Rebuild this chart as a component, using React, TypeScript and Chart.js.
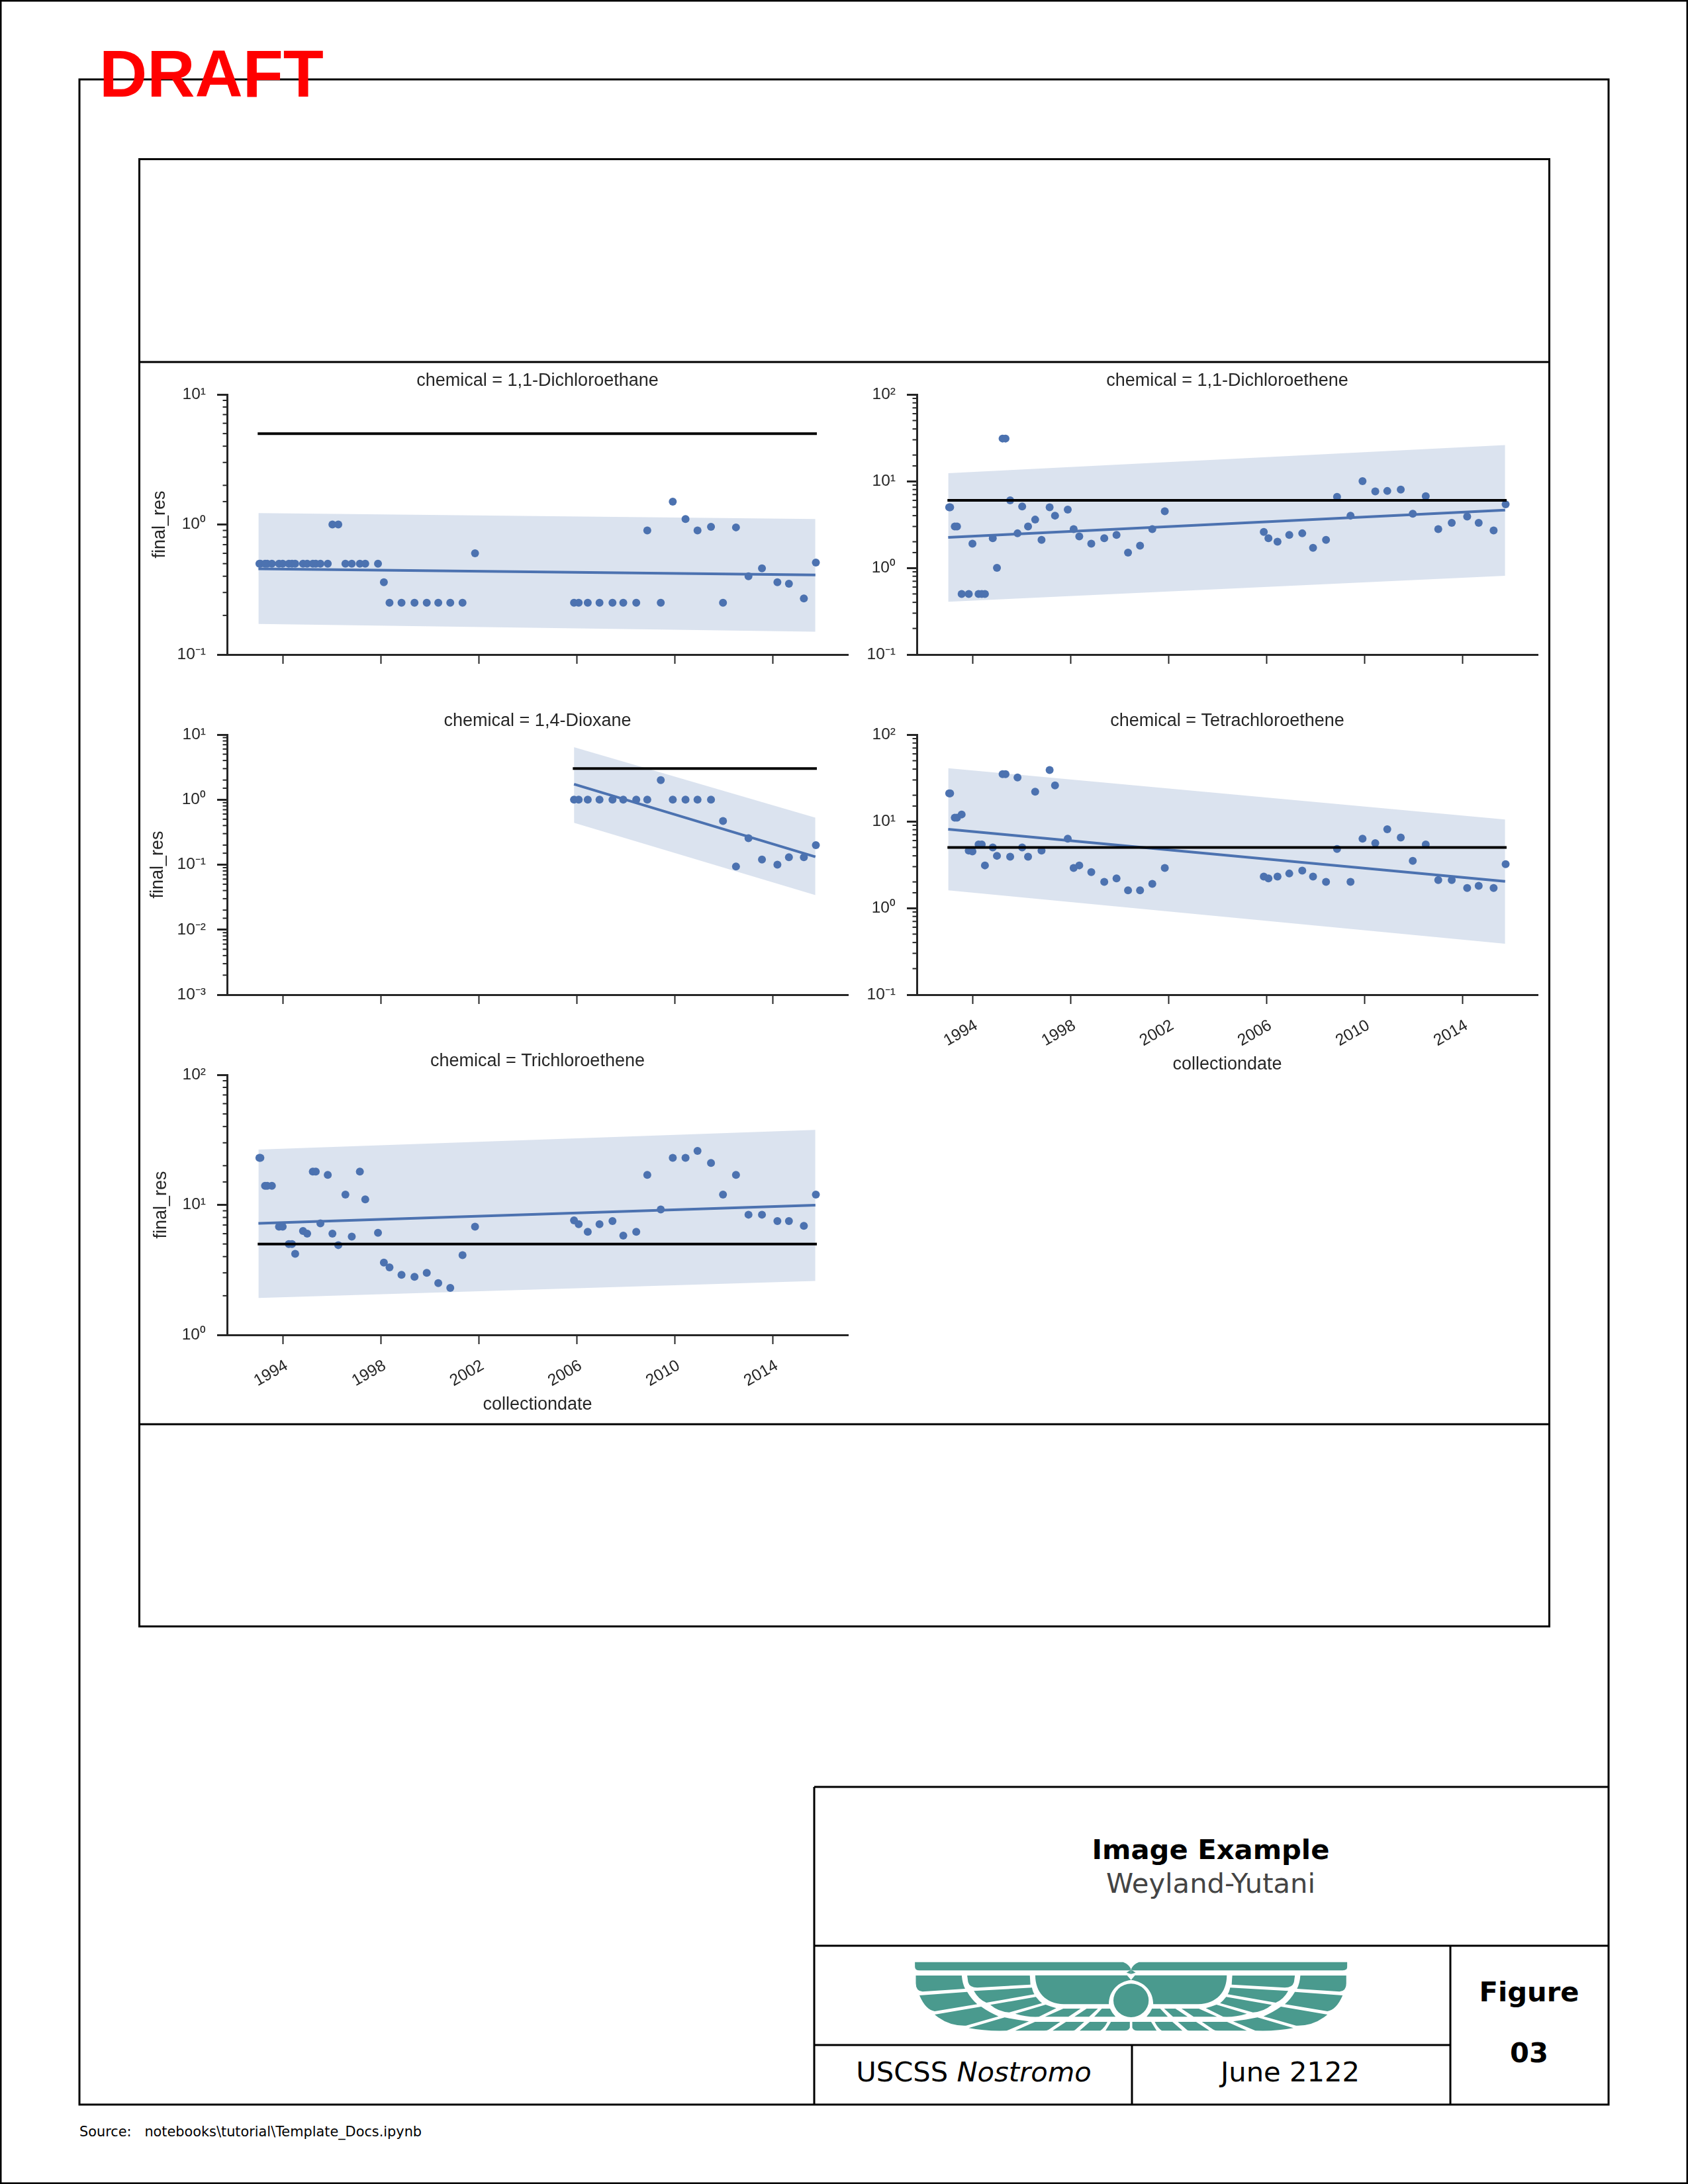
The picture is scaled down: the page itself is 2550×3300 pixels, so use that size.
import React, { useEffect, useRef } from "react";
import { Chart, registerables } from "chart.js";

Chart.register(...registerables);

// ---- data ----
const sampleDates = [
  1993.05, 1993.09, 1993.28, 1993.37, 1993.56, 1993.85, 1994.0, 1994.25, 1994.38, 1994.51, 1994.83,
  1995.0, 1995.23, 1995.35, 1995.54, 1995.84, 1996.03, 1996.27, 1996.56, 1996.82, 1997.15, 1997.37,
  1997.89, 1998.13, 1998.36, 1998.85, 1999.38, 1999.88, 2000.35, 2000.84, 2001.34, 2001.85, 2005.89,
  2006.08, 2006.45, 2006.93, 2007.46, 2007.9, 2008.43, 2008.88, 2009.43, 2009.92, 2010.44, 2010.93,
  2011.48, 2011.97, 2012.5, 2013.01, 2013.56, 2014.19, 2014.66, 2015.27, 2015.76,
];
const dioxaneDates = sampleDates.slice(32);

const dichloroethane = [
  0.5, 0.5, 0.5, 0.5, 0.5, 0.5, 0.5, 0.5, 0.5, 0.5, 0.5, 0.5, 0.5, 0.5, 0.5, 0.5, 1.0, 1.0, 0.5, 0.5,
  0.5, 0.5, 0.5, 0.36, 0.25, 0.25, 0.25, 0.25, 0.25, 0.25, 0.25, 0.6, 0.25, 0.25, 0.25, 0.25, 0.25,
  0.25, 0.25, 0.9, 0.25, 1.5, 1.1, 0.9, 0.96, 0.25, 0.95, 0.4, 0.46, 0.36, 0.35, 0.27, 0.51,
];
const dichloroethene = [
  5, 5, 3, 3, 0.5, 0.5, 1.9, 0.5, 0.5, 0.5, 2.2, 1.0, 31, 31, 6, 2.5, 5.1, 3, 3.6, 2.1, 5, 4, 4.7, 2.8,
  2.3, 1.9, 2.2, 2.4, 1.5, 1.8, 2.8, 4.5, 2.6, 2.2, 2.0, 2.4, 2.5, 1.7, 2.1, 6.6, 4, 10, 7.6, 7.7, 8,
  4.2, 6.7, 2.8, 3.3, 3.9, 3.3, 2.7, 5.4,
];
const dioxane = [
  1, 1, 1, 1, 1, 1, 1, 1, 2, 1, 1, 1, 1, 0.47, 0.094, 0.255, 0.12, 0.1, 0.13, 0.13, 0.2,
];
const tetrachloroethene = [
  21, 21, 11, 11, 12, 4.6, 4.5, 5.4, 5.4, 3.1, 5, 4, 35, 35, 3.9, 32, 5, 3.9, 22, 4.6, 39, 26, 6.3, 2.9,
  3.1, 2.6, 2, 2.2, 1.6, 1.6, 1.9, 2.9, 2.3, 2.2, 2.3, 2.5, 2.7, 2.3, 2, 4.8, 2, 6.3, 5.6, 8.1, 6.5,
  3.5, 5.4, 2.1, 2.1, 1.7, 1.8, 1.7, 3.2,
];
const trichloroethene = [
  23, 23, 14, 14, 14, 6.8, 6.8, 5, 5, 4.2, 6.3, 6, 18, 18, 7.2, 17, 6, 4.9, 12, 5.7, 18, 11, 6.1, 3.6,
  3.3, 2.9, 2.8, 3, 2.5, 2.3, 4.1, 6.8, 7.6, 7.1, 6.2, 7.1, 7.5, 5.8, 6.2, 17, 9.2, 23, 23, 26, 21, 12,
  17, 8.4, 8.4, 7.5, 7.5, 6.9, 12,
];

const fitDates = [1993.01, 2015.74];
const dioxaneFitDates = [2005.89, 2015.74];
const limitDates = [1992.98, 2015.8];
const dioxaneLimitDates = [2005.84, 2015.8];

const fit1 = [0.456, 0.409];
const upper1 = [1.225, 1.1];
const lower1 = [0.172, 0.15];
const fit2 = [2.24, 4.64];
const upper2 = [12.35, 26.1];
const lower2 = [0.406, 0.81];
const fit3 = [1.73, 0.132];
const upper3 = [6.4, 0.527];
const lower3 = [0.44, 0.034];
const fit4 = [8.1, 2.03];
const upper4 = [41, 10.5];
const lower4 = [1.6, 0.387];
const fit5 = [7.2, 9.95];
const upper5 = [26.6, 37.7];
const lower5 = [1.92, 2.6];

const tickYears = [1994, 1998, 2002, 2006, 2010, 2014];
const SUP: Record<string, string> = { "-": "\u207B", "0": "\u2070", "1": "\u00B9", "2": "\u00B2", "3": "\u00B3" };

// ---- styling ----
const INK = "#262626";
const BLUE = "#4C72B0";
const BAND = "rgba(76,114,176,0.2)";
const CHART_FONT = "'Liberation Sans', Arial, sans-serif";
const FRAME_FONT = "'DejaVu Sans', sans-serif";

const isDecade = (v: number) => Math.abs(Math.log10(v) - Math.round(Math.log10(v))) < 1e-6;

const minorTicks = {
  id: "minorTicks",
  afterDraw(chart: any) {
    const s = chart.scales.y;
    const c = chart.ctx;
    c.save();
    c.strokeStyle = INK;
    c.lineWidth = 2;
    for (const t of s.ticks) {
      if (isDecade(t.value)) continue;
      const p = s.getPixelForValue(t.value);
      c.beginPath();
      c.moveTo(s.right - 6.5, p);
      c.lineTo(s.right, p);
      c.stroke();
    }
    c.restore();
  },
};

type PanelProps = {
  title: string;
  left: number;
  top: number;
  dates: number[];
  values: number[];
  fitX: number[];
  fit: number[];
  upper: number[];
  lower: number[];
  limitX: number[];
  limit: number;
  yMin: number;
  yMax: number;
  yLabel?: string;
  yLabelPad?: number;
  xLabels?: boolean;
};

const AXIS_W = 938;
const AXIS_H = 393;
const PAD_LEFT = 128;
const PAD_TOP = 46;
const PAD_RIGHT = 15;

function Panel(p: PanelProps) {
  const ref = useRef<HTMLCanvasElement | null>(null);
  const padBottom = p.xLabels ? 125 : 40;
  const width = PAD_LEFT + AXIS_W + PAD_RIGHT;
  const height = PAD_TOP + AXIS_H + padBottom;
  useEffect(() => {
    const pair = (xs: number[], ys: number[]) => xs.map((x, i) => ({ x, y: ys[i] }));
    const chart = new Chart(ref.current as HTMLCanvasElement, {
      type: "line",
      data: {
        datasets: [
          { label: "limit", data: pair(p.limitX, [p.limit, p.limit]), borderColor: "#000", borderWidth: 4, pointRadius: 0, order: 0 },
          { label: "samples", data: pair(p.dates, p.values), showLine: false, pointRadius: 6, pointBorderWidth: 0, pointBackgroundColor: BLUE, borderColor: BLUE, order: 1 },
          { label: "fit", data: pair(p.fitX, p.fit), borderColor: BLUE, borderWidth: 4, pointRadius: 0, order: 2 },
          { label: "upper", data: pair(p.fitX, p.upper), borderWidth: 0, pointRadius: 0, fill: "+1", backgroundColor: BAND, order: 3 },
          { label: "lower", data: pair(p.fitX, p.lower), borderWidth: 0, pointRadius: 0, order: 4 },
        ] as any,
      },
      options: {
        animation: false,
        responsive: false,
        devicePixelRatio: 1,
        layout: { padding: { left: 0, right: PAD_RIGHT, top: 0, bottom: 0 } },
        plugins: {
          legend: { display: false },
          tooltip: { enabled: false },
          title: {
            display: true,
            text: p.title,
            fullSize: false,
            color: INK,
            font: { family: CHART_FONT, size: 27, weight: "normal" },
            padding: { top: 9, bottom: PAD_TOP - 9 - 32.4 },
          },
        },
        scales: {
          x: {
            type: "linear",
            min: 1991.73,
            max: 2017.07,
            afterBuildTicks(s: any) {
              s.ticks = tickYears.map((value) => ({ value }));
            },
            afterFit(s: any) {
              s.height = padBottom;
            },
            border: { color: INK, width: 3 },
            grid: { drawOnChartArea: false, tickLength: 14, tickWidth: 2, tickColor: INK },
            ticks: {
              autoSkip: false,
              minRotation: 30,
              maxRotation: 30,
              padding: 18,
              labelOffset: 6,
              color: INK,
              font: { family: CHART_FONT, size: 24.5 },
              callback: (v: any) => (p.xLabels ? String(v) : ""),
            },
            title: {
              display: !!p.xLabels,
              text: "collectiondate",
              color: INK,
              font: { family: CHART_FONT, size: 27 },
              padding: { top: 0, bottom: 3 },
            },
          },
          y: {
            type: "logarithmic",
            min: p.yMin,
            max: p.yMax,
            afterFit(s: any) {
              s.width = PAD_LEFT;
            },
            border: { color: INK, width: 3 },
            grid: {
              drawOnChartArea: false,
              tickLength: 15,
              tickColor: INK,
              tickWidth: (c: any) => (c.tick && isDecade(c.tick.value) ? 3 : 0),
            },
            ticks: {
              autoSkip: false,
              padding: 17,
              color: INK,
              font: { family: CHART_FONT, size: 24.5 },
              callback: (v: any) => {
                const n = Number(v);
                if (!isDecade(n)) return "";
                return "10" + String(Math.round(Math.log10(n))).split("").map((ch) => SUP[ch]).join("");
              },
            },
            title: {
              display: !!p.yLabel,
              text: p.yLabel || "",
              color: INK,
              font: { family: CHART_FONT, size: 27 },
              padding: { top: p.yLabelPad || 0, bottom: 0 },
            },
          },
        },
      } as any,
      plugins: [minorTicks],
    });
    return () => chart.destroy();
  }, []);
  return (
    <canvas
      ref={ref}
      width={width}
      height={height}
      style={{ position: "absolute", left: p.left - PAD_LEFT, top: p.top - PAD_TOP, width, height, display: "block" }}
    />
  );
}

function Logo() {
  const half = (
    <g fill="#4A9A8E">
      <path d="M70,74 L755,74 C768,80 778,95 781,108 L775,112 L85,112 Q70,112 70,95 Z" />
      <path d="M766,122 L781,108 L781,128 Z" />
      <path d="M466,134 L768,134 L781,155 C738,162 708,205 708,265 L560,265 C500,262 466,210 466,134 Z" />
      <path d="M242,135 L448,135 L450,176 L275,190 Q250,190 245,165 Z" />
      <path d="M73,135 L224,135 Q226,170 235,195 L95,208 Q73,205 73,170 Z" />
      <path d="M85,225 L242,209 Q255,240 275,265 L135,297 Q105,290 85,225 Z" />
      <path d="M264,205 L455,190 Q458,210 463,220 L305,258 Q280,245 264,205 Z" />
      <path d="M318,268 L468,232 Q478,250 488,260 L380,302 Q345,300 318,268 Z" />
      <path d="M135,312 L288,276 Q312,300 345,320 L238,362 Q180,365 135,312 Z" />
      <path d="M400,308 L500,267 Q515,275 535,283 L478,322 Q440,325 400,308 Z" />
      <path d="M247,373 L365,325 Q400,335 445,343 L372,385 Q300,388 247,373 Z" />
      <path d="M498,322 L558,285 L615,285 L575,322 Z" />
      <path d="M595,322 L635,285 L672,285 L643,322 Z" />
      <path d="M660,322 L685,285 L712,285 Q718,305 730,322 Z" />
      <path d="M400,385 L465,345 L548,345 L510,380 Q505,385 495,385 Z" />
      <path d="M523,385 L567,345 L627,345 L598,380 Q595,385 585,385 Z" />
      <path d="M612,385 L645,345 L703,345 Q695,370 680,385 Z" />
      <path d="M697,385 L715,345 L777,345 L777,370 Q775,385 760,385 Z" />
    </g>
  );
  return (
    <g transform="translate(1350,2940) scale(0.4592,0.3333)">
      {half}
      <g transform="translate(1562,0) scale(-1,1)">{half}</g>
      <ellipse cx="781" cy="248" rx="58" ry="76" fill="#4A9A8E" />
    </g>
  );
}

function Frame() {
  const stroke = { stroke: "#000", strokeWidth: 3, fill: "none" };
  return (
    <svg
      width={2550}
      height={3300}
      style={{ position: "absolute", left: 0, top: 0, display: "block" }}
      xmlns="http://www.w3.org/2000/svg"
    >
      <rect x={1} y={1} width={2548} height={3298} {...stroke} />
      <rect x={120} y={120} width={2310} height={3060} {...stroke} />
      <rect x={210.5} y={240.5} width={2130} height={2217} {...stroke} />
      <line x1={210} y1={547} x2={2341} y2={547} {...stroke} />
      <line x1={210} y1={2152} x2={2341} y2={2152} {...stroke} />
      <line x1={1230} y1={2700} x2={2430} y2={2700} {...stroke} />
      <line x1={1230} y1={2700} x2={1230} y2={3180} {...stroke} />
      <line x1={1230} y1={2940} x2={2430} y2={2940} {...stroke} />
      <line x1={1230} y1={3090} x2={2191} y2={3090} {...stroke} />
      <line x1={1710} y1={3090} x2={1710} y2={3180} {...stroke} />
      <line x1={2191} y1={2940} x2={2191} y2={3180} {...stroke} />
      <Logo />
      <g fontFamily={FRAME_FONT} fontSize={41.67} textAnchor="middle">
        <text x={1829} y={2809} fontWeight="bold" fill="#000">Image Example</text>
        <text x={1829} y={2860} fill="#444">Weyland-Yutani</text>
        <text x={1471} y={3145} fill="#000">
          USCSS <tspan fontStyle="italic">Nostromo</tspan>
        </text>
        <text x={1949} y={3145} fill="#000">June 2122</text>
        <text x={2310} y={3024} fontWeight="bold" fill="#000">Figure</text>
        <text x={2310} y={3116} fontWeight="bold" fill="#000">03</text>
      </g>
      <text x={120} y={3228} fontFamily={FRAME_FONT} fontSize={20.83} fill="#000" xmlSpace="preserve">
        {"Source:   notebooks\\tutorial\\Template_Docs.ipynb"}
      </text>
      <text x={150} y={146} fontFamily={CHART_FONT} fontWeight="bold" fontSize={100} fill="#FF0000">DRAFT</text>
    </svg>
  );
}

export default function App() {
  return (
    <div style={{ position: "absolute", left: 0, top: 0, width: 2550, height: 3300, background: "#fff", overflow: "hidden" }}>
      <Frame />
      <Panel title="chemical = 1,1-Dichloroethane" left={343} top={596} dates={sampleDates} values={dichloroethane}
        fitX={fitDates} fit={fit1} upper={upper1} lower={lower1} limitX={limitDates} limit={5} yMin={0.1} yMax={10}
        yLabel="final_res" yLabelPad={10} />
      <Panel title="chemical = 1,1-Dichloroethene" left={1385} top={596} dates={sampleDates} values={dichloroethene}
        fitX={fitDates} fit={fit2} upper={upper2} lower={lower2} limitX={limitDates} limit={6} yMin={0.1} yMax={100} />
      <Panel title="chemical = 1,4-Dioxane" left={343} top={1110} dates={dioxaneDates} values={dioxane}
        fitX={dioxaneFitDates} fit={fit3} upper={upper3} lower={lower3} limitX={dioxaneLimitDates} limit={3} yMin={0.001} yMax={10}
        yLabel="final_res" yLabelPad={7} />
      <Panel title="chemical = Tetrachloroethene" left={1385} top={1110} dates={sampleDates} values={tetrachloroethene}
        fitX={fitDates} fit={fit4} upper={upper4} lower={lower4} limitX={limitDates} limit={5} yMin={0.1} yMax={100} xLabels />
      <Panel title="chemical = Trichloroethene" left={343} top={1624} dates={sampleDates} values={trichloroethene}
        fitX={fitDates} fit={fit5} upper={upper5} lower={lower5} limitX={limitDates} limit={5} yMin={1} yMax={100}
        yLabel="final_res" yLabelPad={12} xLabels />
    </div>
  );
}
